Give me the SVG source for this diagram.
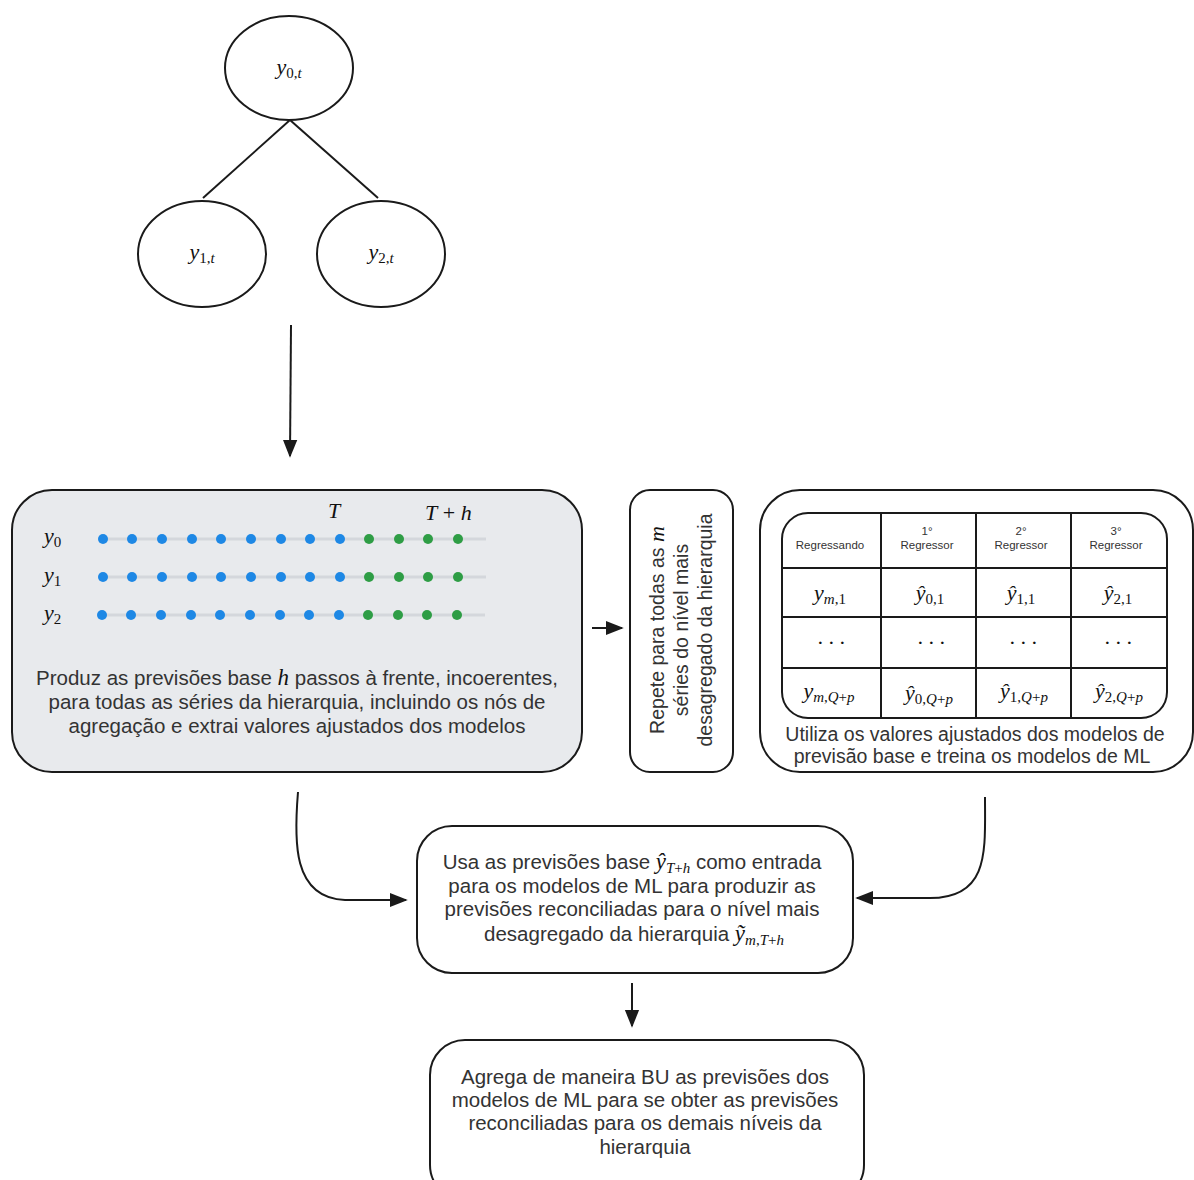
<svg xmlns="http://www.w3.org/2000/svg" width="1194" height="1180" viewBox="0 0 1194 1180">
<style>
.box{fill:#fff;stroke:#1a1a1a;stroke-width:2}
.ln{fill:none;stroke:#1a1a1a;stroke-width:2}
.t{font-family:"Liberation Sans",Arial,sans-serif;font-size:20.5px;fill:#333;text-anchor:middle}
.t2{font-size:19.5px}
.m{font-family:"Liberation Serif","Times New Roman",serif;font-style:italic;font-size:22px;fill:#111}
.mc{font-family:"Liberation Serif","Times New Roman",serif;font-style:italic;font-size:22px;fill:#111;text-anchor:middle}
.s{font-size:15px;font-style:normal}
.si{font-size:15px}
.h{font-family:"Liberation Sans",Arial,sans-serif;font-size:11.5px;fill:#333;text-anchor:middle}
.b{fill:#1e88e5}
.g{fill:#2e9d45}
.tr{stroke:#d4d7dc;stroke-width:3}
</style>
<defs>
<marker id="ah2" viewBox="0 0 10 10" refX="9" refY="5" markerWidth="18" markerHeight="18" markerUnits="userSpaceOnUse" orient="auto">
<path d="M0,1 L10,5 L0,9 z" fill="#1a1a1a"/>
</marker>
</defs>

<g id="tree">
<g id="n0"><ellipse class="box" cx="289" cy="68" rx="64" ry="52"/>
<text class="mc" x="289" y="74">y<tspan class="s" dy="4">0,</tspan><tspan class="si">t</tspan></text></g>
<g id="n1"><ellipse class="box" cx="202" cy="254" rx="64" ry="53"/>
<text class="mc" x="202" y="259">y<tspan class="s" dy="4">1,</tspan><tspan class="si">t</tspan></text></g>
<g id="n2"><ellipse class="box" cx="381" cy="254" rx="64" ry="53"/>
<text class="mc" x="381" y="259">y<tspan class="s" dy="4">2,</tspan><tspan class="si">t</tspan></text></g>
</g>

<g id="connectors">
<line class="ln" x1="290" y1="120" x2="203" y2="198"/>
<line class="ln" x1="290" y1="120" x2="378" y2="198"/>
<line class="ln" x1="291" y1="325" x2="290" y2="456" marker-end="url(#ah2)"/>
<line class="ln" x1="592" y1="628" x2="622" y2="628" marker-end="url(#ah2)"/>
<path class="ln" d="M298,792 C294,840 292,898 345,900 L406,900" marker-end="url(#ah2)"/>
<path class="ln" d="M985,797 C985,850 990,898 930,898 L857,898" marker-end="url(#ah2)"/>
<line class="ln" x1="632" y1="983" x2="632" y2="1026" marker-end="url(#ah2)"/>
</g>

<g id="forecast">
<rect x="12" y="490" width="570" height="282" rx="40" fill="#e8eaed" stroke="#1a1a1a" stroke-width="2"/>
<text class="m" x="328" y="518">T</text>
<text class="m" x="425" y="520">T<tspan font-style="normal"> + </tspan>h</text>
<text class="m" x="44" y="543">y<tspan class="s" dy="4">0</tspan></text>
<text class="m" x="44" y="582">y<tspan class="s" dy="4">1</tspan></text>
<text class="m" x="44" y="620">y<tspan class="s" dy="4">2</tspan></text>
<line class="tr" x1="103" y1="539" x2="486" y2="539"/>
<line class="tr" x1="103" y1="577" x2="486" y2="577"/>
<line class="tr" x1="102" y1="615" x2="485" y2="615"/>
<g class="b">
<circle cx="103" cy="539" r="5"/><circle cx="132" cy="539" r="5"/><circle cx="162" cy="539" r="5"/><circle cx="192" cy="539" r="5"/><circle cx="221" cy="539" r="5"/><circle cx="251" cy="539" r="5"/><circle cx="281" cy="539" r="5"/><circle cx="310" cy="539" r="5"/><circle cx="340" cy="539" r="5"/>
<circle cx="103" cy="577" r="5"/><circle cx="132" cy="577" r="5"/><circle cx="162" cy="577" r="5"/><circle cx="192" cy="577" r="5"/><circle cx="221" cy="577" r="5"/><circle cx="251" cy="577" r="5"/><circle cx="281" cy="577" r="5"/><circle cx="310" cy="577" r="5"/><circle cx="340" cy="577" r="5"/>
<circle cx="102" cy="615" r="5"/><circle cx="131" cy="615" r="5"/><circle cx="161" cy="615" r="5"/><circle cx="191" cy="615" r="5"/><circle cx="220" cy="615" r="5"/><circle cx="250" cy="615" r="5"/><circle cx="280" cy="615" r="5"/><circle cx="309" cy="615" r="5"/><circle cx="339" cy="615" r="5"/>
</g>
<g class="g">
<circle cx="369" cy="539" r="5"/><circle cx="399" cy="539" r="5"/><circle cx="428" cy="539" r="5"/><circle cx="458" cy="539" r="5"/>
<circle cx="369" cy="577" r="5"/><circle cx="399" cy="577" r="5"/><circle cx="428" cy="577" r="5"/><circle cx="458" cy="577" r="5"/>
<circle cx="368" cy="615" r="5"/><circle cx="398" cy="615" r="5"/><circle cx="427" cy="615" r="5"/><circle cx="457" cy="615" r="5"/>
</g>
<text class="t" x="297" y="685">Produz as previsões base <tspan font-family="Liberation Serif,serif" font-style="italic" font-size="23" fill="#111">h</tspan> passos à frente, incoerentes,</text>
<text class="t" x="297" y="709">para todas as séries da hierarquia, incluindo os nós de</text>
<text class="t" x="297" y="733">agregação e extrai valores ajustados dos modelos</text>
</g>

<g id="repeat">
<rect class="box" x="630" y="490" width="103" height="282" rx="20"/>
<g transform="translate(682,630) rotate(-90)">
<text class="t t2" x="0" y="-18">Repete para todas as <tspan font-family="Liberation Serif,serif" font-style="italic" font-size="22" fill="#111">m</tspan></text>
<text class="t t2" x="0" y="6">séries do nível mais</text>
<text class="t t2" x="0" y="30">desagregado da hierarquia</text>
</g>
</g>

<g id="training">
<rect class="box" x="760" y="490" width="433" height="282" rx="40"/>
<rect class="box" x="782" y="513" width="385" height="205" rx="26"/>
<line class="ln" x1="881" y1="513" x2="881" y2="718"/>
<line class="ln" x1="976" y1="513" x2="976" y2="718"/>
<line class="ln" x1="1071" y1="513" x2="1071" y2="718"/>
<line class="ln" x1="782" y1="568" x2="1167" y2="568"/>
<line class="ln" x1="782" y1="617" x2="1167" y2="617"/>
<line class="ln" x1="782" y1="668" x2="1167" y2="668"/>
<text class="h" x="830" y="549">Regressando</text>
<text class="h" x="927" y="535">1°</text><text class="h" x="927" y="549">Regressor</text>
<text class="h" x="1021" y="535">2°</text><text class="h" x="1021" y="549">Regressor</text>
<text class="h" x="1116" y="535">3°</text><text class="h" x="1116" y="549">Regressor</text>
<text class="mc" x="830" y="600">y<tspan class="si" dy="4">m</tspan><tspan class="s">,1</tspan></text>
<text class="mc" x="930" y="600">ŷ<tspan class="s" dy="4">0,1</tspan></text>
<text class="mc" x="1021" y="600">ŷ<tspan class="s" dy="4">1,1</tspan></text>
<text class="mc" x="1118" y="600">ŷ<tspan class="s" dy="4">2,1</tspan></text>
<text class="mc" x="831" y="650" font-style="normal">· · ·</text>
<text class="mc" x="931" y="650" font-style="normal">· · ·</text>
<text class="mc" x="1023" y="650" font-style="normal">· · ·</text>
<text class="mc" x="1118" y="650" font-style="normal">· · ·</text>
<text class="mc" x="829" y="698">y<tspan class="si" dy="4">m</tspan><tspan class="s">,</tspan><tspan class="si">Q</tspan><tspan class="s">+</tspan><tspan class="si">p</tspan></text>
<text class="mc" x="929" y="700">ŷ<tspan class="s" dy="4">0,</tspan><tspan class="si">Q</tspan><tspan class="s">+</tspan><tspan class="si">p</tspan></text>
<text class="mc" x="1024" y="698">ŷ<tspan class="s" dy="4">1,</tspan><tspan class="si">Q</tspan><tspan class="s">+</tspan><tspan class="si">p</tspan></text>
<text class="mc" x="1119" y="698">ŷ<tspan class="s" dy="4">2,</tspan><tspan class="si">Q</tspan><tspan class="s">+</tspan><tspan class="si">p</tspan></text>
<text class="t t2" x="975" y="741">Utiliza os valores ajustados dos modelos de</text>
<text class="t t2" x="972" y="763">previsão base e treina os modelos de ML</text>
</g>

<g id="reconcile">
<rect class="box" x="417" y="826" width="436" height="147" rx="35"/>
<text class="t" x="632" y="869">Usa as previsões base <tspan font-family="Liberation Serif,serif" font-style="italic" font-size="23" fill="#111">ŷ<tspan font-size="15" dy="4">T</tspan><tspan font-size="15" font-style="normal">+</tspan><tspan font-size="15">h</tspan></tspan><tspan dy="-4"> como entrada</tspan></text>
<text class="t" x="632" y="893">para os modelos de ML para produzir as</text>
<text class="t" x="632" y="916">previsões reconciliadas para o nível mais</text>
<text class="t" x="634" y="941">desagregado da hierarquia <tspan font-family="Liberation Serif,serif" font-style="italic" font-size="23" fill="#111">ỹ<tspan font-size="15" dy="4">m</tspan><tspan font-size="15" font-style="normal">,</tspan><tspan font-size="15">T</tspan><tspan font-size="15" font-style="normal">+</tspan><tspan font-size="15">h</tspan></tspan></text>
</g>

<g id="aggregate">
<rect class="box" x="430" y="1040" width="434" height="160" rx="35"/>
<text class="t" x="645" y="1084">Agrega de maneira BU as previsões dos</text>
<text class="t" x="645" y="1107">modelos de ML para se obter as previsões</text>
<text class="t" x="645" y="1130">reconciliadas para os demais níveis da</text>
<text class="t" x="645" y="1154">hierarquia</text>
</g>
</svg>
